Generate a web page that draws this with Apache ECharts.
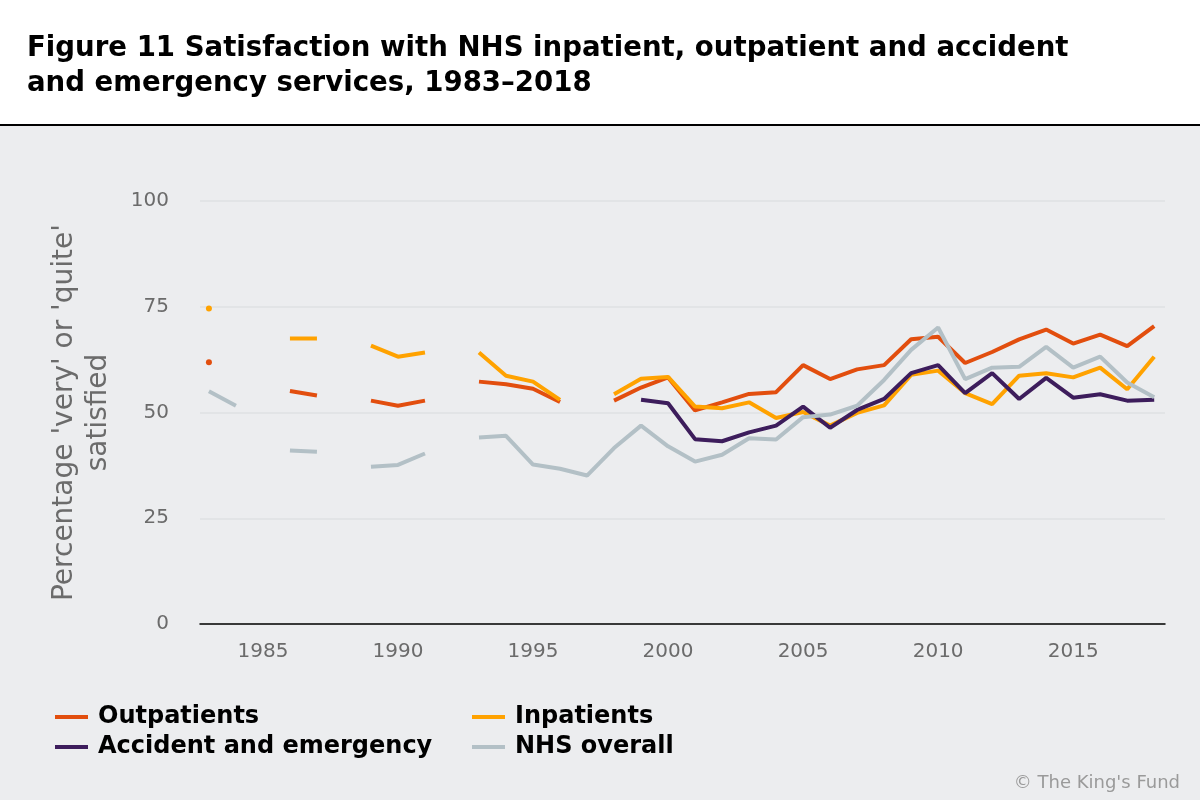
<!DOCTYPE html>
<html lang="en">
<head>
    <meta charset="utf-8">
    <title>Satisfaction with NHS services 1983-2018</title>
    <style>
        * {
            margin: 0;
            padding: 0;
        }

        #chart {
            width: 1200px;
            height: 800px;
        }
    </style>
</head>
<body>
<div id="chart"></div>
<script src="https://cdn.jsdelivr.net/npm/echarts@6/dist/echarts.min.js"></script>
<script>
    // survey years, one slot per year (null = no survey that year)
    const years = [];
    for (let y = 1983; y <= 2018; y++) years.push(y);

    const outpatients = [61.9, null, null, 55.1, 54.0, null, 52.8, 51.6, 52.8, null,
        57.3, 56.7, 55.6, 52.5, null, 52.8, 55.9, 58.3, 50.5, 52.4,
        54.4, 54.8, 61.2, 57.9, 60.2, 61.2, 67.3, 67.9, 61.7, 64.3,
        67.3, 69.6, 66.3, 68.4, 65.7, 70.4];
    const inpatients = [74.6, null, null, 67.5, 67.5, null, 65.8, 63.2, 64.2, null,
        64.2, 58.7, 57.3, 53.0, null, 54.3, 58.0, 58.4, 51.4, 51.0,
        52.4, 48.7, 50.1, 46.9, 49.9, 51.7, 58.9, 59.9, 54.6, 52.0,
        58.7, 59.3, 58.3, 60.6, 55.5, 63.2];
    const accidentEmergency = [null, null, null, null, null, null, null, null, null, null,
        null, null, null, null, null, null, 53.0, 52.2, 43.7, 43.2,
        45.3, 46.9, 51.4, 46.4, 50.6, 53.2, 59.3, 61.2, 54.6, 59.3,
        53.2, 58.2, 53.5, 54.3, 52.8, 53.0];
    const nhsOverall = [55.0, 51.6, null, 41.0, 40.7, null, 37.2, 37.6, 40.3, null,
        44.1, 44.5, 37.7, 36.7, 35.1, 41.6, 46.9, 42.0, 38.4, 40.0,
        43.9, 43.6, 48.9, 49.5, 51.6, 57.7, 64.8, 70.1, 57.9, 60.6,
        60.8, 65.5, 60.6, 63.2, 57.1, 53.6];

    const xTickLabels = [1985, 1990, 1995, 2000, 2005, 2010, 2015];
    const yTicks = [0, 25, 50, 75, 100];

    const seriesNames = ['Outpatients', 'Inpatients', 'Accident and emergency', 'NHS overall'];
    const seriesColors = ['#E24E0E', '#FFA200', '#3D1D5C', '#B3C0C6'];
    const seriesValues = [outpatients, inpatients, accidentEmergency, nhsOverall];

    const font = 'DejaVu Sans';
    const greyText = '#6b6b6b';

    // pair up years and values; lone points get a small dot
    function toPoints(values) {
        return values.map(function (v, i) {
            const lone = v != null && values[i - 1] == null && values[i + 1] == null;
            return {
                value: [years[i], v],
                symbol: lone ? 'circle' : 'none',
                symbolSize: lone ? 6 : 0
            };
        });
    }

    const chart = echarts.init(document.getElementById('chart'), null, {renderer: 'canvas'});

    const legendBase = {
        orient: 'vertical',
        top: 705,
        padding: 0,
        itemGap: 6,
        itemWidth: 33,
        itemHeight: 4,
        icon: 'rect',
        selectedMode: false,
        textStyle: {fontFamily: font, fontWeight: 'bold', fontSize: 24, color: '#000', padding: [0, 0, 0, 5]}
    };

    const option = {
        backgroundColor: '#ECEDEF',
        animation: false,
        graphic: [
            {
                type: 'rect',
                left: 0, top: 0,
                shape: {width: 1200, height: 125},
                style: {fill: '#ffffff'},
                z: -1
            },
            {
                type: 'rect',
                left: 0, top: 124,
                shape: {width: 1200, height: 2},
                style: {fill: '#000000'}
            },
            {
                type: 'text',
                right: 20, top: 774,
                style: {
                    text: '\u00a9 The King\'s Fund',
                    fill: '#9a9a9a',
                    font: '18px "' + font + '"'
                }
            }
        ],
        title: {
            text: 'Figure 11 Satisfaction with NHS inpatient, outpatient and accident\nand emergency services, 1983\u20132018',
            left: 27,
            top: 31,
            padding: 0,
            textStyle: {
                fontFamily: font,
                fontWeight: 'bold',
                fontSize: 27.6,
                lineHeight: 35,
                color: '#000'
            }
        },
        legend: [
            Object.assign({}, legendBase, {data: ['Outpatients', 'Accident and emergency'], left: 55}),
            Object.assign({}, legendBase, {data: ['Inpatients', 'NHS overall'], left: 472})
        ],
        grid: {
            left: 200,
            right: 35,
            top: 201,
            bottom: 176
        },
        xAxis: {
            type: 'value',
            min: 1982.67,
            max: 2018.4,
            axisLine: {show: true, onZero: true, lineStyle: {color: '#000', width: 1.5}},
            axisTick: {show: false},
            splitLine: {show: false},
            axisLabel: {
                customValues: xTickLabels,
                formatter: function (v) { return String(v); },
                color: greyText,
                fontFamily: font,
                fontSize: 20,
                margin: 18
            }
        },
        yAxis: {
            type: 'value',
            min: 0,
            max: 100,
            interval: 25,
            name: 'Percentage \'very\' or \'quite\'\nsatisfied',
            nameLocation: 'middle',
            nameGap: 84,
            nameRotate: 90,
            nameTextStyle: {
                color: greyText,
                fontFamily: font,
                fontSize: 28,
                lineHeight: 34
            },
            axisLine: {show: false},
            axisTick: {show: false},
            axisLabel: {
                customValues: yTicks,
                color: greyText,
                fontFamily: font,
                fontSize: 20,
                margin: 31
            },
            splitLine: {lineStyle: {color: '#DFE0E3', width: 1.5}}
        },
        series: seriesNames.map(function (name, k) {
            return {
                name: name,
                type: 'line',
                data: toPoints(seriesValues[k]),
                connectNulls: false,
                showSymbol: true,
                symbol: 'none',
                color: seriesColors[k],
                lineStyle: {width: 4, color: seriesColors[k]},
                itemStyle: {color: seriesColors[k]},
                emphasis: {disabled: true},
                z: 2 + k
            };
        })
    };

    chart.setOption(option);
</script>
</body>
</html>
